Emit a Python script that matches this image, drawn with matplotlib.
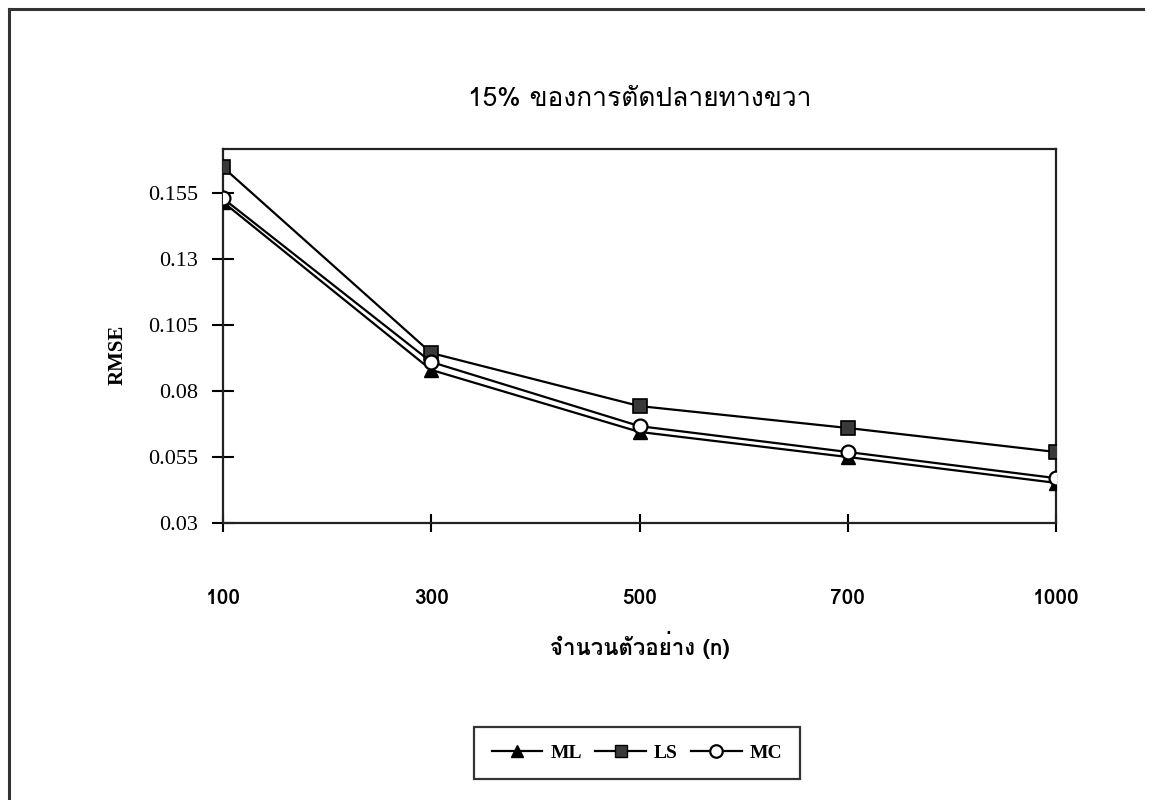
import matplotlib
matplotlib.use("Agg")
import matplotlib.pyplot as plt
from matplotlib import font_manager
from matplotlib.ft2font import FT2Font
from matplotlib.lines import Line2D

# sample sizes and RMSE for each estimator
sample_sizes = ["100", "300", "500", "700", "1000"]
rmse_ml = [0.1516, 0.0880, 0.0645, 0.0550, 0.0452]
rmse_ls = [0.1648, 0.0944, 0.0743, 0.0660, 0.0569]
rmse_mc = [0.1530, 0.0910, 0.0667, 0.0569, 0.0470]
y_ticks = [0.03, 0.055, 0.08, 0.105, 0.13, 0.155]
y_tick_labels = ["0.03", "0.055", "0.08", "0.105", "0.13", "0.155"]

title_text = "15% ของการตัดปลายทางขวา"
x_label_text = "จำนวนตัวอย่าง (n)"
y_label_text = "RMSE"


def thai_family():
    """Return the first installed family that can draw Thai script."""
    for f in font_manager.fontManager.ttflist:
        try:
            cmap = FT2Font(f.fname).get_charmap()
        except Exception:
            continue
        if 0x0E01 in cmap and 0x0E32 in cmap and 0x0E07 in cmap:
            return f.name
    return "DejaVu Sans"


THAI = thai_family()
SERIF = "Liberation Serif"

fig = plt.figure(figsize=(11.49, 8.0), dpi=100)
ax = fig.add_axes([223 / 1149, 1 - 523 / 800, (1056 - 223) / 1149, (523 - 149) / 800])

xs = list(range(len(sample_sizes)))
lw = 1.6
ax.plot(xs, rmse_ls, color="black", lw=lw, marker="s", ms=10,
        mfc="#3a3a3a", mec="black", mew=1.2, zorder=3)
ax.plot(xs, rmse_ml, color="black", lw=lw, marker="^", ms=10,
        mfc="black", mec="black", zorder=3)
ax.plot(xs, rmse_mc, color="black", lw=lw, marker="o", ms=10,
        mfc="white", mec="black", mew=1.6, zorder=4)

ax.set_xlim(0, len(sample_sizes) - 1)
ax.set_ylim(0.03, 0.1717)
ax.set_xticks(xs)
ax.set_xticklabels(sample_sizes, fontfamily=[THAI, "DejaVu Sans"],
                   fontweight="bold", fontsize=15)
ax.set_yticks(y_ticks)
ax.set_yticklabels(y_tick_labels, fontfamily=SERIF, fontsize=16)
ax.tick_params(axis="x", direction="inout", length=13, width=1.5,
               color="black", pad=41)
ax.tick_params(axis="y", direction="inout", length=16, width=1.5,
               color="black", pad=10)
for s in ax.spines.values():
    s.set_linewidth(1.6)
    s.set_color("#222222")

ax.set_title(title_text, fontfamily=[THAI, "DejaVu Sans"], fontsize=19, pad=31)
fig.text(640 / 1149, 1 - 645 / 800, x_label_text,
         fontfamily=[THAI, "DejaVu Sans"], fontweight="bold", fontsize=16,
         ha="center", va="center")
fig.text(118 / 1149, 1 - 355 / 800, y_label_text, fontfamily=SERIF,
         fontweight="bold", fontsize=15, rotation=90, ha="center", va="center")

handles = [
    Line2D([], [], color="black", lw=lw, marker="^", ms=9, mfc="black", mec="black"),
    Line2D([], [], color="black", lw=lw, marker="s", ms=9, mfc="#3a3a3a", mec="black"),
    Line2D([], [], color="black", lw=lw, marker="o", ms=9, mfc="white", mec="black", mew=1.6),
]
leg = fig.legend(handles, ["ML", "LS", "MC"], loc="center",
                 bbox_to_anchor=(637 / 1149, 1 - 753 / 800), ncol=3,
                 frameon=True, fancybox=False, edgecolor="black",
                 prop={"family": SERIF, "weight": "bold", "size": 14},
                 handlelength=2.6, handletextpad=0.4, columnspacing=0.7,
                 borderpad=0.9)
leg.get_frame().set_linewidth(1.6)

# outer frame around the whole chart
frame_kw = dict(color="#333333", lw=2.2, transform=fig.transFigure)
fig.add_artist(Line2D([9 / 1149, 9 / 1149], [0, 1 - 9 / 800], **frame_kw))
fig.add_artist(Line2D([9 / 1149, 1143 / 1149], [1 - 9 / 800, 1 - 9 / 800], **frame_kw))

fig.savefig("out.png", dpi=100, facecolor="white")
